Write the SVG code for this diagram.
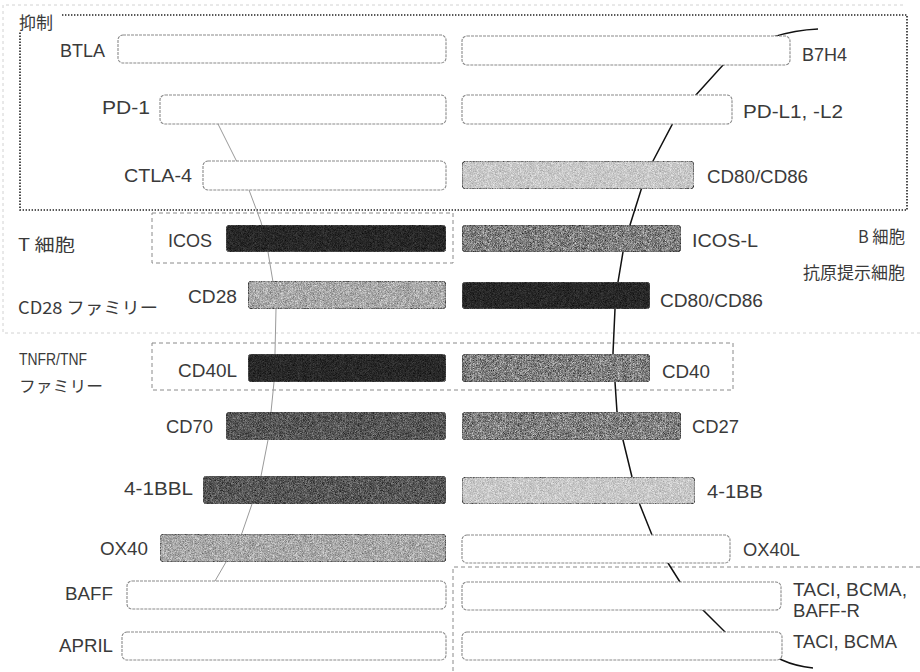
<svg xmlns="http://www.w3.org/2000/svg" width="920" height="672" viewBox="0 0 920 672">
<style>
  text { font-family: "Liberation Sans", "Noto Sans CJK JP", sans-serif; font-size: 18px; fill: #3a3a3a; }
  .jp { font-family: "Noto Sans CJK JP", "Liberation Sans", sans-serif; font-size: 17px; fill: #3a3a3a; }
  .sm { font-size: 16px; }
  .lt { text-anchor: end; }
  .bar { stroke: #555; stroke-width: 1; }
  .white { fill: #fff; stroke: #8a8a8a; stroke-width: 1.1; stroke-dasharray: 3 1; }
  .black { fill: #282828; }
  .dark { fill: #575757; }
  .mid { fill: #808080; }
  .light { fill: #a9a9a9; }
  .pale { fill: #c8c8c8; }
  .tex { filter: url(#grain); }
  .dotbox { fill: none; stroke: #222; stroke-width: 1.6; stroke-dasharray: 1.4 1.6; }
  .dashbox { fill: none; stroke: #8a8a8a; stroke-width: 1; stroke-dasharray: 4 3; }
  .faint { fill: none; stroke: #d2d2d2; stroke-width: 1; stroke-dasharray: 3 3; }
  .conR { fill: none; stroke: #111; stroke-width: 1.5; }
  .conL { fill: none; stroke: #9a9a9a; stroke-width: 1; }
</style>
<defs>
  <filter id="grain" x="0" y="0" width="1" height="1" color-interpolation-filters="sRGB">
    <feTurbulence type="fractalNoise" baseFrequency="1.6" numOctaves="1" seed="7" result="t"/>
    <feColorMatrix in="t" type="saturate" values="0" result="g"/>
    <feComponentTransfer in="g" result="c">
      <feFuncR type="linear" slope="1.5" intercept="-0.25"/>
      <feFuncG type="linear" slope="1.5" intercept="-0.25"/>
      <feFuncB type="linear" slope="1.5" intercept="-0.25"/>
      <feFuncA type="linear" slope="0" intercept="1"/>
    </feComponentTransfer>
    <feBlend in="c" in2="SourceGraphic" mode="overlay" result="b"/>
    <feComposite in="b" in2="SourceGraphic" operator="in"/>
  </filter>
</defs>
<rect x="0" y="0" width="920" height="672" fill="#fff"/>

<g id="regions">
  <path class="faint" d="M 903 5 H 3 V 333 H 920"/>
  <path class="dotbox" d="M 62 15 H 907 V 210 H 20 V 32"/>
  <rect class="dashbox" x="152" y="213" width="301" height="50"/>
  <rect class="dashbox" x="152" y="343" width="581" height="47"/>
  <path class="dashbox" d="M 920 567 H 453 V 672"/>
</g>

<g id="connectors">
  <path class="conL" d="M 214 112 L 218 124 L 236 160 L 249 190 L 261 222 L 268 252 L 273 282 L 276 309 L 275 353 L 274 382 L 271 412 L 268 440 L 261 476 L 252 504 L 242 533 L 226 562 L 215 581"/>
  <path class="conR" d="M 818 29 Q 795 30 773 37 L 723 65 L 695 96 L 673 123 L 653 161 L 641 190 L 630 225 L 623 252 L 618 282 L 615 309 L 613 353 L 615 382 L 617 412 L 623 440 L 632 477 L 640 505 L 652 535 L 668 563 L 680 582 L 703 610 L 726 633 L 782 660 Q 795 666 813 668"/>
</g>

<g id="label-yokusei"><text class="jp" x="19" y="29">抑制</text></g>
<g id="label-tcell"><text class="jp" x="18" y="251" textLength="57" lengthAdjust="spacingAndGlyphs">T 細胞</text></g>
<g id="label-cd28fam"><text class="jp" x="18" y="314" textLength="140" lengthAdjust="spacingAndGlyphs">CD28 ファミリー</text></g>
<g id="label-tnf"><text x="19" y="365" style="font-size:17px" textLength="68" lengthAdjust="spacingAndGlyphs">TNFR/TNF</text><text class="jp sm" x="19" y="392" textLength="84" lengthAdjust="spacingAndGlyphs">ファミリー</text></g>
<g id="label-bcell"><text class="jp" x="858" y="243" textLength="47" lengthAdjust="spacingAndGlyphs">B 細胞</text></g>
<g id="label-apc"><text class="jp" x="803" y="279" textLength="102" lengthAdjust="spacingAndGlyphs">抗原提示細胞</text></g>

<g id="BTLA"><rect class="white" x="118" y="35" width="328" height="28" rx="5"/><text class="lt" x="105" y="57">BTLA</text></g>
<g id="B7H4"><rect class="white" x="462" y="36" width="328" height="29" rx="5"/><text x="802" y="61">B7H4</text></g>

<g id="PD-1"><rect class="white" x="160" y="95" width="286" height="29" rx="5"/><text class="lt" x="150" y="114" textLength="48" lengthAdjust="spacingAndGlyphs">PD-1</text></g>
<g id="PD-L1"><rect class="white" x="462" y="95" width="270" height="29" rx="5"/><text x="743" y="118" textLength="100" lengthAdjust="spacingAndGlyphs">PD-L1, -L2</text></g>

<g id="CTLA-4"><rect class="white" x="203" y="161" width="243" height="29" rx="5"/><text class="lt" x="192" y="182" textLength="68" lengthAdjust="spacingAndGlyphs">CTLA-4</text></g>
<g id="CD80-CD86-a"><rect class="bar pale tex" x="462" y="161" width="232" height="28" rx="4"/><text x="707" y="183" textLength="101" lengthAdjust="spacingAndGlyphs">CD80/CD86</text></g>

<g id="ICOS"><rect class="bar black tex" x="226" y="225" width="220" height="27" rx="4"/><text class="lt" x="212" y="247">ICOS</text></g>
<g id="ICOS-L"><rect class="bar mid tex" x="462" y="225" width="219" height="27" rx="4"/><text x="692" y="247" textLength="66" lengthAdjust="spacingAndGlyphs">ICOS-L</text></g>

<g id="CD28"><rect class="bar light tex" x="248" y="281" width="198" height="28" rx="4"/><text class="lt" x="237" y="303" textLength="49" lengthAdjust="spacingAndGlyphs">CD28</text></g>
<g id="CD80-CD86-b"><rect class="bar black tex" x="462" y="282" width="188" height="27" rx="4"/><text x="660" y="307" textLength="103" lengthAdjust="spacingAndGlyphs">CD80/CD86</text></g>

<g id="CD40L"><rect class="bar black tex" x="248" y="354" width="198" height="28" rx="4"/><text class="lt" x="237" y="377" textLength="59" lengthAdjust="spacingAndGlyphs">CD40L</text></g>
<g id="CD40"><rect class="bar mid tex" x="462" y="354" width="188" height="28" rx="4"/><text x="662" y="378" textLength="48" lengthAdjust="spacingAndGlyphs">CD40</text></g>

<g id="CD70"><rect class="bar dark tex" x="226" y="412" width="220" height="28" rx="4"/><text class="lt" x="213" y="433" textLength="47" lengthAdjust="spacingAndGlyphs">CD70</text></g>
<g id="CD27"><rect class="bar mid tex" x="462" y="412" width="219" height="28" rx="4"/><text x="692" y="433" textLength="47" lengthAdjust="spacingAndGlyphs">CD27</text></g>

<g id="4-1BBL"><rect class="bar dark tex" x="203" y="476" width="243" height="28" rx="4"/><text class="lt" x="193" y="495" textLength="69" lengthAdjust="spacingAndGlyphs">4-1BBL</text></g>
<g id="4-1BB"><rect class="bar pale tex" x="462" y="477" width="233" height="27" rx="4"/><text x="707" y="498" textLength="56" lengthAdjust="spacingAndGlyphs">4-1BB</text></g>

<g id="OX40"><rect class="bar light tex" x="160" y="534" width="286" height="28" rx="4"/><text class="lt" x="148" y="555" textLength="48" lengthAdjust="spacingAndGlyphs">OX40</text></g>
<g id="OX40L"><rect class="white" x="462" y="535" width="268" height="28" rx="5"/><text x="743" y="556" textLength="57" lengthAdjust="spacingAndGlyphs">OX40L</text></g>

<g id="BAFF"><rect class="white" x="127" y="581" width="319" height="28" rx="5"/><text class="lt" x="113" y="600" textLength="48" lengthAdjust="spacingAndGlyphs">BAFF</text></g>
<g id="TACI-BCMA-BAFF-R"><rect class="white" x="462" y="582" width="319" height="28" rx="5"/><text x="793" y="596" textLength="114" lengthAdjust="spacingAndGlyphs">TACI, BCMA,</text><text x="793" y="617" textLength="67" lengthAdjust="spacingAndGlyphs">BAFF-R</text></g>

<g id="APRIL"><rect class="white" x="122" y="632" width="324" height="28" rx="5"/><text class="lt" x="113" y="652" textLength="54" lengthAdjust="spacingAndGlyphs">APRIL</text></g>
<g id="TACI-BCMA"><rect class="white" x="462" y="632" width="320" height="28" rx="5"/><text x="793" y="648" textLength="104" lengthAdjust="spacingAndGlyphs">TACI, BCMA</text></g>
</svg>
